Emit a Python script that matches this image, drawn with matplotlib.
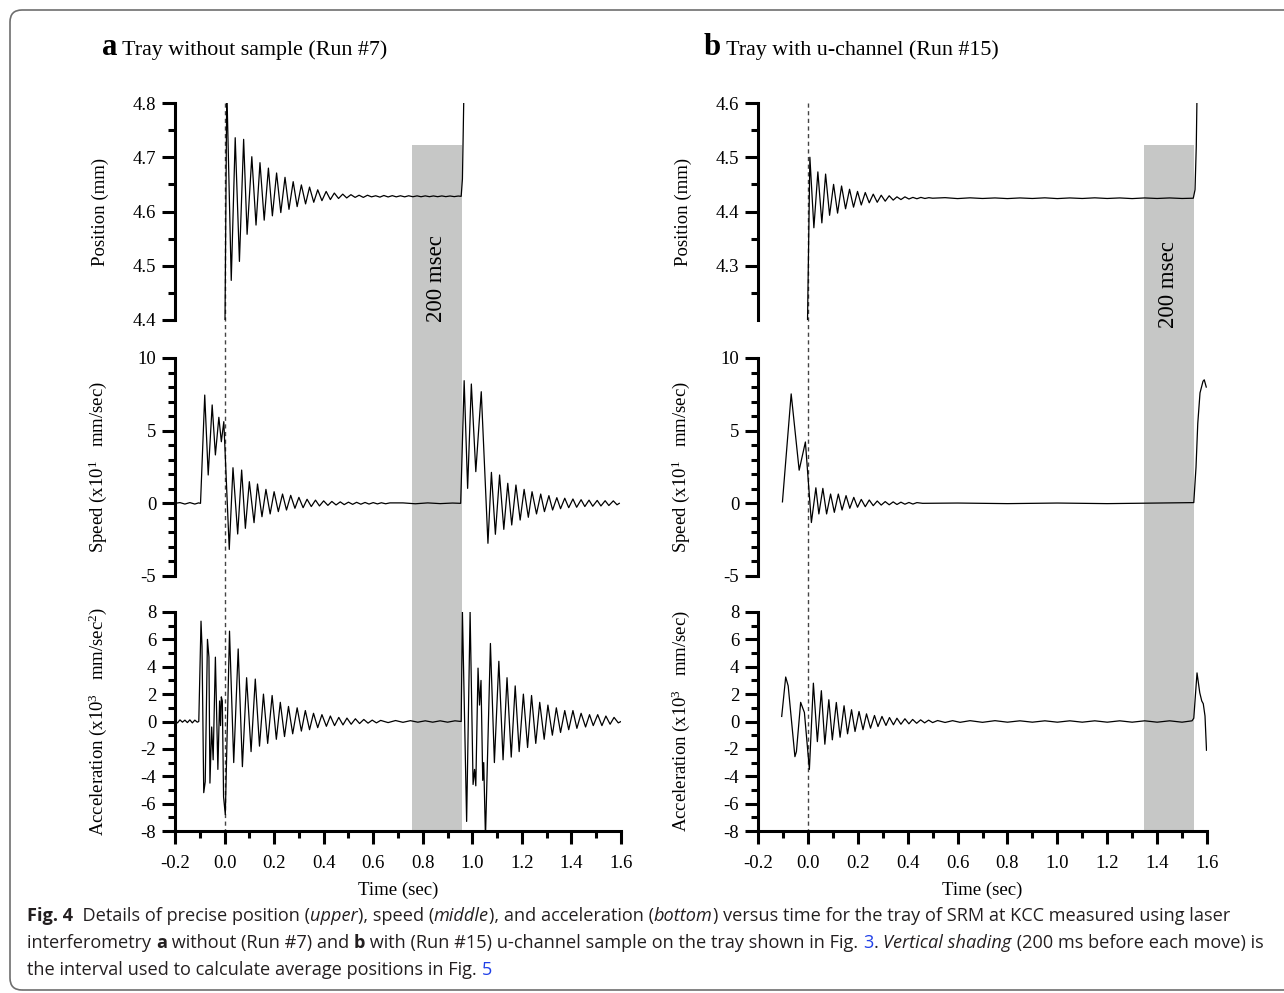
import matplotlib
matplotlib.use("Agg")
import matplotlib.pyplot as plt
from matplotlib import font_manager
from matplotlib.lines import Line2D
from matplotlib.patches import Rectangle, FancyBboxPatch
from matplotlib.ticker import MultipleLocator, FixedLocator, FormatStrFormatter
from matplotlib.transforms import blended_transform_factory

W, H = 1284, 993

# ---- data (time in sec) ----
# (a) tray without sample, run #7
pos_a_t = [0.001, 0.009, 0.027, 0.043, 0.060, 0.077, 0.091, 0.110, 0.127, 0.143, 0.160, 0.177,
           0.193, 0.210, 0.227, 0.244, 0.260, 0.277, 0.293, 0.310, 0.327, 0.343, 0.360, 0.376,
           0.393, 0.410, 0.427, 0.443, 0.460, 0.477, 0.493, 0.510, 0.527, 0.543, 0.560, 0.577,
           0.593, 0.610, 0.627, 0.643, 0.660, 0.677, 0.693, 0.710, 0.727, 0.743, 0.760, 0.777,
           0.793, 0.810, 0.827, 0.843, 0.860, 0.877, 0.893, 0.910, 0.927, 0.943, 0.955, 0.960,
           0.963, 0.967]
pos_a_v = [4.35, 4.83, 4.473, 4.736, 4.508, 4.733, 4.558, 4.701, 4.575, 4.690, 4.584, 4.680,
           4.592, 4.671, 4.598, 4.663, 4.604, 4.655, 4.609, 4.649, 4.614, 4.645, 4.617, 4.640,
           4.620, 4.637, 4.622, 4.634, 4.624, 4.632, 4.625, 4.631, 4.626, 4.630, 4.626, 4.630,
           4.627, 4.629, 4.6265, 4.6295, 4.6268, 4.6292, 4.6270, 4.6290, 4.6270, 4.6290, 4.6272, 4.6288,
           4.6272, 4.6288, 4.6273, 4.6287, 4.6273, 4.6287, 4.6274, 4.6286, 4.6274, 4.6285, 4.628, 4.66,
           4.74, 4.85]

spd_a_t = [-0.200, -0.180, -0.160, -0.140, -0.120, -0.105, -0.097, -0.080, -0.066, -0.050, -0.037,
           -0.023, -0.013, -0.003, 0.019, 0.034, 0.053, 0.069, 0.084, 0.100, 0.119, 0.133, 0.151,
           0.167, 0.184, 0.200, 0.217, 0.234, 0.250, 0.267, 0.284, 0.300, 0.317, 0.333, 0.350,
           0.367, 0.383, 0.400, 0.417, 0.433, 0.450, 0.467, 0.483, 0.500, 0.517, 0.533, 0.550,
           0.567, 0.583, 0.600, 0.617, 0.633, 0.650, 0.667, 0.720, 0.770, 0.820, 0.870, 0.920,
           0.953, 0.967, 0.981, 0.996, 1.014, 1.036, 1.063, 1.077, 1.093, 1.110, 1.127, 1.143,
           1.159, 1.176, 1.193, 1.209, 1.226, 1.241, 1.259, 1.276, 1.291, 1.309, 1.324, 1.341,
           1.356, 1.373, 1.389, 1.406, 1.421, 1.439, 1.454, 1.471, 1.486, 1.504, 1.519, 1.536,
           1.551, 1.569, 1.584, 1.593]
spd_a_v = [0.00, 0.05, -0.05, 0.05, -0.05, 0.03, 0.00, 7.45, 1.95, 6.77, 3.33,
           5.92, 4.24, 5.62, -3.17, 2.45, -2.11, 2.29, -1.72, 1.49, -1.33, 1.33, -0.92,
           0.96, -0.73, 0.80, -0.57, 0.64, -0.46, 0.55, -0.34, 0.41, -0.30, 0.28, -0.22,
           0.22, -0.18, 0.17, -0.14, 0.13, -0.11, 0.10, -0.09, 0.08, -0.07, 0.07, -0.06,
           0.06, -0.05, 0.05, -0.04, 0.04, -0.03, 0.03, 0.03, -0.03, 0.03, -0.02, 0.02,
           0.00, 8.44, 1.03, 8.21, 2.18, 7.68, -2.75, 2.13, -2.13, 1.95, -1.79, 1.38,
           -1.49, 1.26, -1.15, 0.96, -0.96, 0.80, -0.73, 0.64, -0.57, 0.53, -0.46, 0.39,
           -0.37, 0.35, -0.30, 0.30, -0.27, 0.25, -0.22, 0.22, -0.20, 0.20, -0.18, 0.18,
           -0.15, 0.17, -0.10, 0.00]

acc_a_t = [-0.200, -0.190, -0.180, -0.170, -0.160, -0.150, -0.140, -0.130, -0.120, -0.110, -0.104,
           -0.095, -0.091, -0.084, -0.078, -0.069, -0.063, -0.059, -0.052, -0.046, -0.037, -0.027,
           -0.020, -0.016, -0.013, -0.009, -0.004, 0.003, 0.020, 0.037, 0.055, 0.072, 0.089,
           0.107, 0.124, 0.141, 0.157, 0.174, 0.192, 0.209, 0.225, 0.242, 0.258, 0.275, 0.293,
           0.310, 0.326, 0.343, 0.359, 0.376, 0.393, 0.411, 0.427, 0.444, 0.461, 0.478, 0.494,
           0.511, 0.528, 0.545, 0.562, 0.579, 0.596, 0.613, 0.630, 0.660, 0.690, 0.720, 0.750,
           0.780, 0.810, 0.840, 0.870, 0.900, 0.930, 0.955, 0.960, 0.977, 0.991, 1.003, 1.009,
           1.014, 1.023, 1.029, 1.035, 1.042, 1.046, 1.053, 1.073, 1.089, 1.107, 1.124, 1.140,
           1.157, 1.173, 1.189, 1.206, 1.223, 1.239, 1.256, 1.272, 1.290, 1.305, 1.323, 1.339,
           1.356, 1.373, 1.389, 1.406, 1.422, 1.439, 1.457, 1.473, 1.488, 1.506, 1.523, 1.539,
           1.556, 1.572, 1.589, 1.600]
acc_a_v = [0.05, -0.10, 0.12, -0.05, 0.10, -0.08, 0.12, -0.10, 0.10, -0.05, 0.00,
           7.33, 5.5, -5.2, -4.4, 6.0, 4.7, -4.5, -0.4, -2.8, 4.7, -3.5,
           1.5, -0.3, 1.8, 1.5, -5.5, -6.8, 6.6, -3.0, 5.3, -3.3, 3.2,
           -2.2, 3.1, -1.8, 2.0, -1.6, 1.9, -1.3, 1.4, -1.1, 1.1, -0.9, 1.0,
           -0.7, 0.8, -0.6, 0.6, -0.45, 0.5, -0.35, 0.4, -0.3, 0.3, -0.25, 0.25,
           -0.2, 0.2, -0.15, 0.15, -0.12, 0.10, -0.10, 0.08, -0.08, 0.07, -0.06, 0.06,
           -0.05, 0.05, -0.05, 0.05, -0.05, 0.05, 0.00, 8.0, -7.3, 8.0, -4.6, -3.5,
           -4.7, 3.9, 1.2, 3.0, -4.3, -3.0, -8.5, 5.7, -3.0, 4.4, -2.8, 3.2,
           -2.6, 2.6, -2.2, 2.0, -1.9, 1.9, -1.6, 1.4, -1.3, 1.2, -1.0, 1.0,
           -0.8, 0.8, -0.6, 0.8, -0.5, 0.6, -0.4, 0.5, -0.3, 0.5, -0.3, 0.4,
           -0.2, 0.3, -0.1, 0.0]

# (b) tray with u-channel, run #15
pos_b_t = [-0.003, 0.008, 0.024, 0.040, 0.056, 0.071, 0.087, 0.103, 0.119, 0.135, 0.151, 0.167,
           0.183, 0.199, 0.214, 0.230, 0.246, 0.262, 0.278, 0.294, 0.310, 0.326, 0.342, 0.357,
           0.373, 0.389, 0.405, 0.421, 0.437, 0.453, 0.469, 0.485, 0.500, 0.550, 0.600, 0.650,
           0.700, 0.750, 0.800, 0.850, 0.900, 0.950, 1.000, 1.050, 1.100, 1.150, 1.200, 1.250,
           1.300, 1.350, 1.400, 1.450, 1.500, 1.545, 1.552, 1.557, 1.562]
pos_b_v = [4.15, 4.500, 4.370, 4.473, 4.379, 4.469, 4.393, 4.450, 4.397, 4.447, 4.405, 4.441,
           4.408, 4.437, 4.412, 4.435, 4.416, 4.432, 4.417, 4.430, 4.419, 4.429, 4.421, 4.427,
           4.422, 4.427, 4.423, 4.426, 4.4235, 4.426, 4.424, 4.4255, 4.4245, 4.4255, 4.4238, 4.4252,
           4.4240, 4.4250, 4.4238, 4.4250, 4.4240, 4.4252, 4.4238, 4.4250, 4.4240, 4.4252, 4.4240, 4.4250,
           4.4238, 4.4250, 4.4240, 4.4250, 4.4240, 4.4245, 4.44, 4.52, 4.68]

spd_b_t = [-0.102, -0.067, -0.035, -0.010, 0.014, 0.032, 0.044, 0.060, 0.075, 0.091, 0.106, 0.122,
           0.137, 0.153, 0.168, 0.184, 0.199, 0.214, 0.230, 0.246, 0.262, 0.278, 0.294, 0.310,
           0.326, 0.342, 0.357, 0.373, 0.389, 0.405, 0.421, 0.437, 0.460, 0.600, 0.800, 1.000,
           1.200, 1.400, 1.547, 1.556, 1.563, 1.572, 1.584, 1.589, 1.597]
spd_b_v = [0.10, 7.53, 2.28, 4.22, -1.32, 1.07, -0.73, 1.03, -0.73, 0.64, -0.62, 0.64,
           -0.46, 0.53, -0.34, 0.41, -0.27, 0.27, -0.23, 0.23, -0.16, 0.16, -0.12, 0.12,
           -0.10, 0.10, -0.08, 0.08, -0.06, 0.06, -0.05, 0.05, 0.00, 0.02, -0.02, 0.02,
           -0.02, 0.02, 0.05, 2.5, 5.5, 7.6, 8.4, 8.5, 8.0]

acc_b_t = [-0.105, -0.089, -0.079, -0.052, -0.046, -0.029, -0.019, -0.014, 0.006, 0.022, 0.038,
           0.054, 0.068, 0.084, 0.098, 0.114, 0.129, 0.145, 0.159, 0.175, 0.189, 0.205, 0.221,
           0.235, 0.251, 0.267, 0.281, 0.297, 0.313, 0.327, 0.343, 0.357, 0.373, 0.389, 0.405,
           0.420, 0.436, 0.452, 0.468, 0.484, 0.500, 0.520, 0.550, 0.580, 0.610, 0.650, 0.700,
           0.750, 0.800, 0.850, 0.900, 0.950, 1.000, 1.050, 1.100, 1.150, 1.200, 1.250, 1.300,
           1.350, 1.400, 1.450, 1.500, 1.540, 1.547, 1.560, 1.571, 1.579, 1.585, 1.592, 1.598]
acc_b_v = [0.37, 3.25, 2.6, -2.57, -2.2, 1.4, 0.9, 0.66, -3.5, 2.8, -1.47,
           2.25, -1.66, 1.59, -1.34, 1.39, -1.15, 1.15, -0.9, 0.86, -0.73, 0.73, -0.6,
           0.56, -0.49, 0.44, -0.37, 0.37, -0.29, 0.29, -0.24, 0.24, -0.2, 0.2, -0.17,
           0.15, -0.13, 0.12, -0.10, 0.10, -0.08, 0.07, -0.07, 0.06, -0.06, 0.06, -0.06,
           0.06, -0.05, 0.05, -0.05, 0.05, -0.05, 0.05, -0.05, 0.05, -0.05, 0.05, -0.05,
           0.05, -0.05, 0.05, -0.05, 0.05, 0.24, 3.55, 2.1, 1.5, 1.3, 0.4, -2.1]

titles = ["Tray without sample (Run #7)", "Tray with u-channel (Run #15)"]
panel_letters = ["a", "b"]
shade_start = [0.757, 1.347]
shade_top = [4.723, 4.523]
msec_y = [4.477, 4.265]
pos_ylim = [(4.4, 4.8), (4.2, 4.6)]
pos_major = [[4.4, 4.5, 4.6, 4.7, 4.8], [4.3, 4.4, 4.5, 4.6]]
pos_minor = [[4.45, 4.55, 4.65, 4.75], [4.25, 4.35, 4.45, 4.55]]
acc_labels = ["Acceleration (x10$^3$   mm/sec$^2$)", "Acceleration (x10$^3$   mm/sec)"]

series = [
    (pos_a_t, pos_a_v, spd_a_t, spd_a_v, acc_a_t, acc_a_v),
    (pos_b_t, pos_b_v, spd_b_t, spd_b_v, acc_b_t, acc_b_v),
]

plt.rcParams["font.family"] = ["Liberation Serif", "DejaVu Serif"]
plt.rcParams["mathtext.fontset"] = "custom"
plt.rcParams["mathtext.rm"] = "Liberation Serif"
plt.rcParams["mathtext.default"] = "rm"
plt.rcParams["axes.unicode_minus"] = False

fig = plt.figure(figsize=(W / 100, H / 100), dpi=100)


def fx(px):
    return px / W


def fy(py):
    return 1 - py / H


col_x = [(175, 621), (758, 1207)]
row_y = [(103, 320), (358, 576), (612, 831)]
SPINE = 2.2

for c in range(2):
    x0, x1 = col_x[c]
    axs = []
    for r in range(3):
        y0, y1 = row_y[r]
        ax = fig.add_axes([fx(x0), fy(y1), fx(x1 - x0), (y1 - y0) / H],
                          sharex=axs[0] if axs else None)
        ax.patch.set_visible(False)
        for s in ["top", "right"]:
            ax.spines[s].set_visible(False)
        ax.spines["left"].set_linewidth(SPINE)
        ax.spines["bottom"].set_linewidth(SPINE)
        ax.tick_params(which="both", width=SPINE, direction="out", labelsize=13.5, pad=4)
        ax.tick_params(which="major", length=9.5)
        ax.tick_params(which="minor", length=5)
        axs.append(ax)

    ax_p, ax_s, ax_a = axs
    pt, pv, st, sv, at, av = series[c]
    for ax, t, v in [(ax_p, pt, pv), (ax_s, st, sv), (ax_a, at, av)]:
        ax.plot(t, v, color="black", lw=0.9)

    ax_a.set_xlim(-0.2, 1.6)
    ax_a.xaxis.set_major_locator(MultipleLocator(0.2))
    ax_a.xaxis.set_minor_locator(MultipleLocator(0.1))
    ax_a.xaxis.set_major_formatter(FormatStrFormatter("%.1f"))
    ax_a.tick_params(axis="x", which="major", pad=7.5)
    ax_a.set_xlabel("Time (sec)", fontsize=13.5, labelpad=7)
    for ax in (ax_p, ax_s):
        ax.spines["bottom"].set_visible(False)
        ax.tick_params(axis="x", which="both", bottom=False, labelbottom=False)

    ax_p.set_ylim(*pos_ylim[c])
    ax_p.yaxis.set_major_locator(FixedLocator(pos_major[c]))
    ax_p.yaxis.set_minor_locator(FixedLocator(pos_minor[c]))
    ax_p.yaxis.set_major_formatter(FormatStrFormatter("%.1f"))
    ax_s.set_ylim(-5, 10)
    ax_s.yaxis.set_major_locator(MultipleLocator(5))
    ax_s.yaxis.set_minor_locator(MultipleLocator(1))
    ax_a.set_ylim(-8, 8)
    ax_a.yaxis.set_major_locator(MultipleLocator(2))
    ax_a.yaxis.set_minor_locator(MultipleLocator(1))

    ax_p.set_ylabel("Position (mm)", fontsize=13.5)
    ax_s.set_ylabel("Speed (x10$^1$   mm/sec)", fontsize=13.5)
    ax_a.set_ylabel(acc_labels[c], fontsize=13.5)
    lab_x = -66 / (x1 - x0)
    for ax in axs:
        ax.yaxis.set_label_coords(lab_x, 0.5)

    # shading band (200 ms before the move) spanning all three panels
    trans = blended_transform_factory(ax_a.transData, fig.transFigure)
    top_px = ax_p.transData.transform((0, shade_top[c]))[1]
    top_f = top_px / H
    fig.add_artist(Rectangle((shade_start[c], fy(831)), 0.2, top_f - fy(831),
                             transform=trans, facecolor="#c6c7c6", edgecolor="none",
                             zorder=-2))
    fig.add_artist(Line2D([0, 0], [fy(103), fy(831)], transform=trans, color="#444444",
                          lw=1.0, linestyle=(0, (3, 2.5)), zorder=-1))
    ax_p.text(shade_start[c] + 0.1, msec_y[c], "200 msec", rotation=90, fontsize=16.5,
              ha="center", va="center")

# ---- rich text helper ----
renderer = fig.canvas.get_renderer()


def text_width(s, **kw):
    t = fig.text(0, 0, " " + s + "|", **kw)
    w1 = t.get_window_extent(renderer).width
    t.set_text(" |")
    w0 = t.get_window_extent(renderer).width
    t.remove()
    return w1 - w0


def draw_runs(x_px, y_px, runs, **base):
    x = x_px
    for s, style in runs:
        kw = dict(base)
        if "b" in style:
            kw["fontweight"] = "bold"
        if "i" in style:
            kw["fontstyle"] = "italic"
        if "u" in style:
            kw["color"] = "#2040e8"
        if "L" in style:
            kw["fontsize"] = base["fontsize"] * 1.4
        fig.text(fx(x), fy(y_px), s, ha="left", va="baseline", **kw)
        x += text_width(s, **kw)
    return x


draw_runs(102, 55, [("a", "bL"), (" " + titles[0], "")], fontsize=15.8,
          family=["Liberation Serif"])
draw_runs(704, 55, [("b", "bL"), (" " + titles[1], "")], fontsize=15.8,
          family=["Liberation Serif"])

# ---- caption ----
names = {f.name for f in font_manager.fontManager.ttflist}
cap_family = next((n for n in ["Liberation Sans Narrow", "DejaVu Sans Condensed",
                               "Open Sans", "Noto Sans"] if n in names), "DejaVu Sans")
cap_lines = [
    [("Fig. 4", "b"), ("  Details of precise position (", ""), ("upper", "i"), ("), speed (", ""),
     ("middle", "i"), ("), and acceleration (", ""), ("bottom", "i"),
     (") versus time for the tray of SRM at KCC measured using laser", "")],
    [("interferometry ", ""), ("a", "b"), (" without (Run #7) and ", ""), ("b", "b"),
     (" with (Run #15) u-channel sample on the tray shown in Fig. ", ""), ("3", "u"), (". ", ""),
     ("Vertical shading", "i"), (" (200 ms before each move) is", "")],
    [("the interval used to calculate average positions in Fig. ", ""), ("5", "u")],
]
cap_y = [921, 948, 975]

# fit caption font size to the width of the longest line
probe = sum(text_width(s, fontsize=12, family=[cap_family],
                       fontweight="bold" if "b" in st else "normal",
                       fontstyle="italic" if "i" in st else "normal")
            for s, st in cap_lines[1])
cap_size = 12 * 1235 / probe
for runs, y in zip(cap_lines, cap_y):
    draw_runs(27, y, runs, fontsize=cap_size, family=[cap_family, "DejaVu Sans"],
              color="#231f20")

# outer rounded frame
fig.add_artist(FancyBboxPatch((0.10, 0.03), 13.2, 9.80,
                              boxstyle="round,pad=0,rounding_size=0.12",
                              transform=fig.dpi_scale_trans, facecolor="none",
                              edgecolor="#6e6e6e", lw=1.2, zorder=5))

fig.savefig("out.png", dpi=100)
